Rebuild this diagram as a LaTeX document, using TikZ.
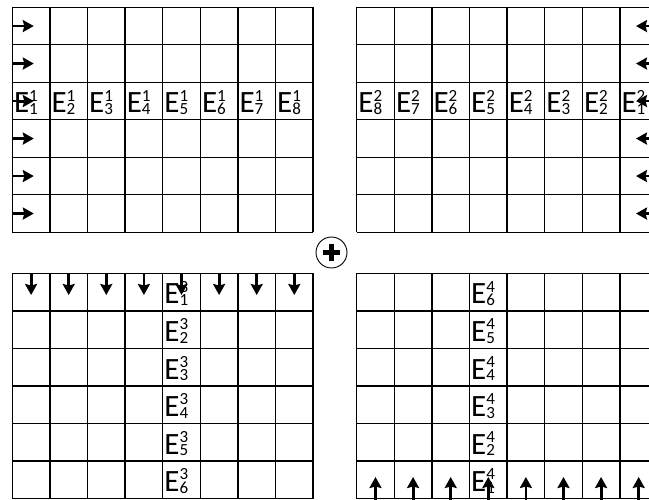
\documentclass[tikz,border=0pt]{standalone}
\usepackage{fontspec}
\setmainfont{Carlito}
\usetikzlibrary{positioning, arrows.meta, calc}

% E with stacked upper / lower index
\newcommand{\elab}[2]{E\rlap{\raisebox{0.38em}{\fontsize{17}{17}\selectfont #1}}\raisebox{-0.05em}{\fontsize{17}{17}\selectfont #2}}

\begin{document}
\begin{tikzpicture}[
    x=1pt, y=-1pt,
    % grid and labels
    gridline/.style={line width=1.3pt, color=black},
    elabel/.style={anchor=base west, inner sep=0pt, font=\fontsize{31}{31}\selectfont},
    % short thick arrows
    arr/.style={-{Stealth[length=11pt, width=12pt, inset=1.5pt]}, line width=2.8pt},
    sumnode/.style={circle, draw, line width=0.9pt, minimum size=31pt, inner sep=0pt},
]
\clip (0,0) rectangle (649,500);

% ==================== 1. grid origins ====================
\def\xL{12.3}
\def\xR{356.7}
\def\yT{7.3}
\def\yB{273.5}
\def\cw{37.6}
\def\ch{37.5}

% ==================== 2. four 8x6 grids ====================
\foreach \gx/\gy in {\xL/\yT, \xR/\yT, \xL/\yB, \xR/\yB} {
  \foreach \i in {0,...,8}
    \draw[gridline] ({\gx+\i*\cw}, \gy) -- ({\gx+\i*\cw}, {\gy+6*\ch});
  \foreach \j in {0,...,6}
    \draw[gridline] (\gx, {\gy+\j*\ch}) -- ({\gx+8*\cw}, {\gy+\j*\ch});
}

% ==================== 3. labels ====================
% top left: third row, E^1_1 ... E^1_8
\foreach \c in {1,...,8}
  \node[elabel] (e1_\c) at ({\xL+(\c-1)*\cw+1.5}, {\yT+3*\ch-7}) {\elab{1}{\c}};

% top right: third row, E^2_8 ... E^2_1
\foreach \c [evaluate=\c as \k using int(9-\c)] in {1,...,8}
  \node[elabel] (e2_\k) at ({\xR+(\c-1)*\cw+1.5}, {\yT+3*\ch-7}) {\elab{2}{\k}};

% bottom left: fifth column, E^3_1 ... E^3_6
\foreach \r in {1,...,6}
  \node[elabel] (e3_\r) at ({\xL+4*\cw+1.5}, {\yB+\r*\ch-7}) {\elab{3}{\r}};

% bottom right: fourth column, E^4_6 ... E^4_1
\foreach \r [evaluate=\r as \k using int(7-\r)] in {1,...,6}
  \node[elabel] (e4_\k) at ({\xR+3*\cw+1.5}, {\yB+\r*\ch-7}) {\elab{4}{\k}};

% ==================== 4. arrows ====================
% left to right, top left
\foreach \r in {1,...,6} {
  \coordinate (tl_s\r) at (\xL, {\yT+(\r-0.5)*\ch});
  \coordinate (tl_t\r) at ({\xL+21.5}, {\yT+(\r-0.5)*\ch});
  \draw[arr] (tl_s\r) -- (tl_t\r);
}
% right to left, top right
\foreach \r in {1,...,6} {
  \coordinate (tr_s\r) at ({\xR+8*\cw}, {\yT+(\r-0.5)*\ch});
  \coordinate (tr_t\r) at ({\xR+8*\cw-21.5}, {\yT+(\r-0.5)*\ch});
  \draw[arr] (tr_s\r) -- (tr_t\r);
}
% downwards, bottom left
\foreach \c in {1,...,8} {
  \coordinate (bl_s\c) at ({\xL+(\c-0.5)*\cw}, \yB);
  \coordinate (bl_t\c) at ({\xL+(\c-0.5)*\cw}, {\yB+21.5});
  \draw[arr] (bl_s\c) -- (bl_t\c);
}
% upwards, bottom right
\foreach \c in {1,...,8} {
  \coordinate (br_s\c) at ({\xR+(\c-0.5)*\cw}, {\yB+6*\ch+1.5});
  \coordinate (br_t\c) at ({\xR+(\c-0.5)*\cw}, {\yB+6*\ch-21.5});
  \draw[arr] (br_s\c) -- (br_t\c);
}

% ==================== 5. sum node ====================
\node[sumnode] (sum) at (331.5, 252.5) {};
\draw[line width=4.8pt] ($(sum.center)+(-8.5,0)$) -- ($(sum.center)+(8.5,0)$);
\draw[line width=4.8pt] ($(sum.center)+(0,-8.5)$) -- ($(sum.center)+(0,8.5)$);

\end{tikzpicture}
\end{document}
